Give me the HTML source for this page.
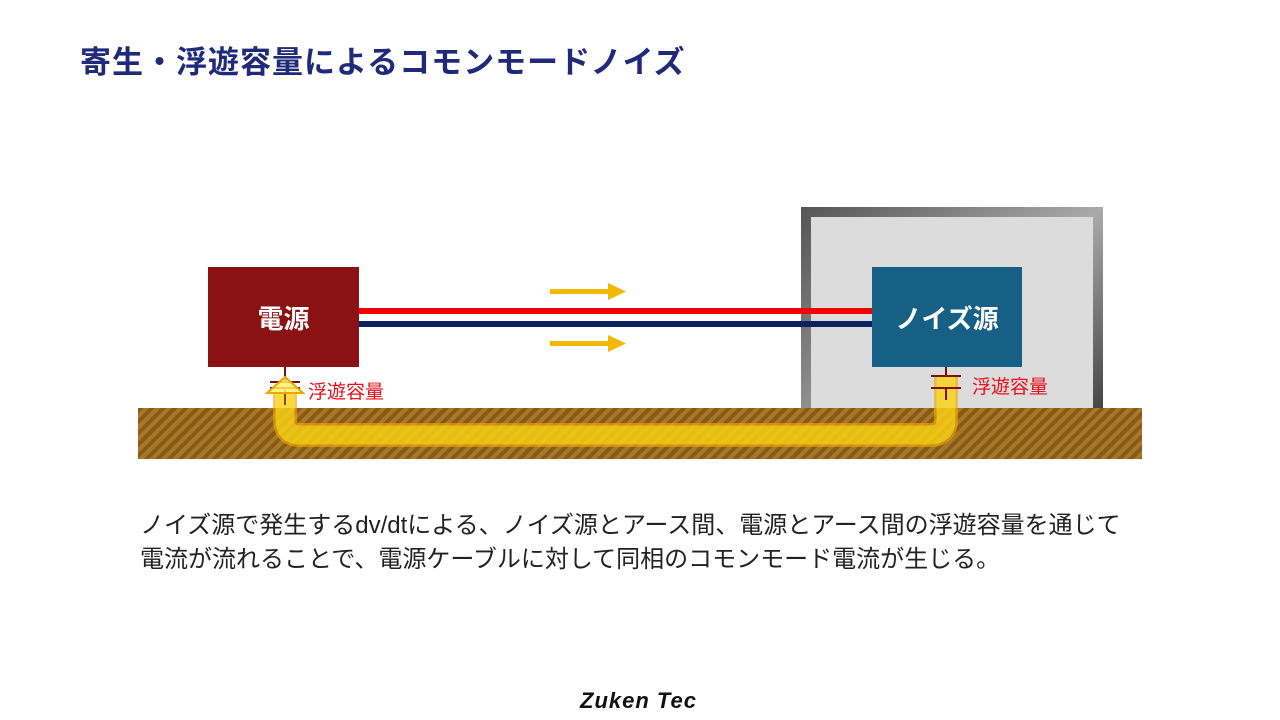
<!DOCTYPE html>
<html><head><meta charset="utf-8"><style>
body{margin:0;width:1280px;height:720px;background:#fff;position:relative;overflow:hidden;font-family:"Liberation Sans","Noto Sans CJK JP",sans-serif}
.a{position:absolute}
</style></head><body>
<div class="a" style="left:80px;top:37px;font-size:31px;font-weight:bold;color:#1f2a7a;letter-spacing:1px">寄生・浮遊容量によるコモンモードノイズ</div>

<div class="a" style="left:801px;top:207px;width:302px;height:201px;background:linear-gradient(135deg,#555,#aaa 60%,#444)"></div>
<div class="a" style="left:811px;top:217px;width:282px;height:191px;background:#dcdcdc"></div>

<div class="a" style="left:138px;top:408px;width:1004px;height:51px;background:repeating-linear-gradient(135deg,#8a5a14 0 4px,#a8782a 4px 8px)"></div>

<div class="a" style="left:208px;top:267px;width:151px;height:100px;background:#8b1214;color:#fff;font-size:26px;font-weight:bold;display:flex;align-items:center;justify-content:center">電源</div>
<div class="a" style="left:872px;top:267px;width:150px;height:100px;background:#165f85;color:#fff;font-size:26px;font-weight:bold;display:flex;align-items:center;justify-content:center">ノイズ源</div>

<div class="a" style="left:359px;top:308px;width:513px;height:6px;background:#f20000"></div>
<div class="a" style="left:359px;top:321px;width:513px;height:6px;background:#0d2060"></div>

<svg class="a" style="left:0;top:0" width="1280" height="720">
<g fill="#f5b800">
<rect x="550" y="289" width="60" height="5"/><polygon points="608,283 626,291.5 608,300"/>
<rect x="550" y="341" width="60" height="5"/><polygon points="608,335 626,343.5 608,352"/>
</g>
<path d="M285,393 L285,420 Q285,435 300,435 L930,435 Q946,435 946,420 L946,376" fill="none" stroke="#f0a800" stroke-width="24" stroke-opacity="0.65"/>
<path d="M285,393 L285,420 Q285,435 300,435 L930,435 Q946,435 946,420 L946,376" fill="none" stroke="#ffee22" stroke-width="19" stroke-opacity="0.5"/>
<g stroke="#7a1010" stroke-width="2">
<line x1="285" y1="367" x2="285" y2="382"/><line x1="270" y1="382" x2="300" y2="382"/><line x1="270" y1="388" x2="300" y2="388"/><line x1="285" y1="388" x2="285" y2="405" stroke-width="1.5"/>
<line x1="946" y1="367" x2="946" y2="376"/><line x1="931" y1="376" x2="961" y2="376"/><line x1="931" y1="388" x2="961" y2="388"/><line x1="946" y1="388" x2="946" y2="400"/>
</g>
<polygon points="285,377 267,393 303,393" fill="#fff066" fill-opacity="0.85" stroke="#e8a800" stroke-width="2"/>
</svg>
<div class="a" style="left:308px;top:377px;font-size:19px;color:#e8101a">浮遊容量</div>
<div class="a" style="left:972px;top:372px;font-size:19px;color:#e8101a">浮遊容量</div>

<div class="a" style="left:140px;top:509px;font-size:24px;color:#222;line-height:34px;white-space:nowrap">ノイズ源で発生するdv/dtによる、ノイズ源とアース間、電源とアース間の浮遊容量を通じて<br>電流が流れることで、電源ケーブルに対して同相のコモンモード電流が生じる。</div>

<div class="a" style="left:580px;top:688px;font-size:22px;font-weight:bold;font-style:italic;color:#111;letter-spacing:1px">Zuken Tec</div>
</body></html>
